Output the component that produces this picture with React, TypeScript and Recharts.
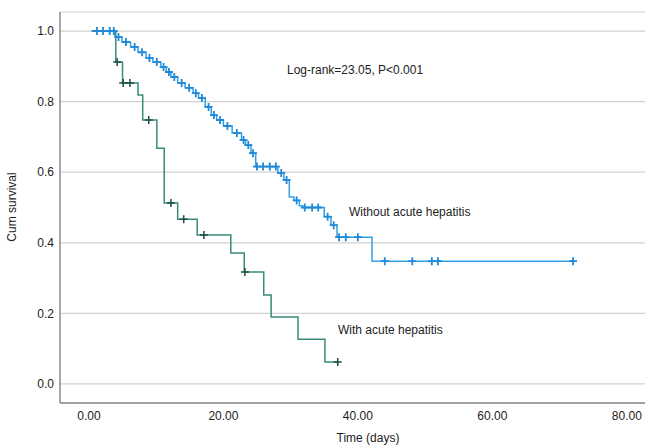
import React from "react";
import {
  ComposedChart,
  Line,
  Scatter,
  XAxis,
  YAxis,
  CartesianGrid,
} from "recharts";

// Kaplan-Meier steps
const blueTimes = [0.4, 3.9, 4.9, 6.2, 7.3, 8.5, 9.5, 10.7, 11.5, 12.2, 13.2, 14.3, 15.5, 16.3, 17.3, 18.2, 19.0, 20.0, 21.3, 22.7, 23.3, 24.1, 24.8, 28.1, 29.0, 29.8, 30.5, 31.3, 31.8, 35.0, 36.0, 36.9, 42.1, 72.0];
const blueSurv = [1.0, 0.983, 0.969, 0.955, 0.94, 0.924, 0.912, 0.898, 0.884, 0.87, 0.853, 0.839, 0.824, 0.81, 0.785, 0.762, 0.748, 0.731, 0.711, 0.691, 0.677, 0.654, 0.616, 0.598, 0.578, 0.53, 0.52, 0.505, 0.5, 0.474, 0.45, 0.416, 0.348, 0.348];
const blueCensored = [1.2, 2.1, 3.1, 3.7, 4.4, 5.5, 6.8, 7.9, 9.0, 10.1, 11.1, 11.9, 12.7, 13.8, 14.9, 15.9, 16.8, 17.8, 18.6, 19.5, 20.6, 22.0, 23.0, 23.7, 24.4, 25.0, 25.9, 26.9, 27.8, 28.6, 29.4, 30.9, 32.1, 33.2, 34.1, 35.5, 36.4, 37.2, 38.2, 40.0, 44.0, 48.1, 51.0, 51.9, 72.0];

const greenTimes = [0.4, 4.0, 5.0, 7.3, 8.0, 10.1, 11.2, 13.2, 16.1, 21.1, 23.1, 26.0, 27.1, 31.1, 35.1, 37.0];
const greenSurv = [1.0, 0.912, 0.853, 0.819, 0.748, 0.668, 0.513, 0.467, 0.422, 0.371, 0.317, 0.252, 0.19, 0.127, 0.062, 0.062];
const greenCensored = [4.2, 5.1, 6.1, 8.9, 12.2, 14.1, 17.1, 23.2, 37.0];

const xTicks = [0, 20, 40, 60, 80];
const yTicks = [0, 0.2, 0.4, 0.6, 0.8, 1.0];

const BLUE = "#34a0e6";
const BLUE_MARK = "#1f88d8";
const GREEN = "#3a8a7c";
const GREEN_MARK = "#1e4d43";
const FONT = "'Liberation Sans', Arial, sans-serif";

const toRows = (ts: number[], ss: number[]) => ts.map((t, i) => ({ t, s: ss[i] }));

const survAt = (ts: number[], ss: number[], t: number) => {
  let v = ss[0];
  for (let i = 0; i < ts.length; i++) if (ts[i] <= t) v = ss[i];
  return v;
};

const blueData = toRows(blueTimes, blueSurv);
const greenData = toRows(greenTimes, greenSurv);
const blueMarks = blueCensored.map((t) => ({ t, s: survAt(blueTimes, blueSurv, t) }));
const greenMarks = greenCensored.map((t) => ({ t, s: survAt(greenTimes, greenSurv, t) }));

const plus = (color: string, w: number) => (props: any) => {
  const { cx, cy } = props;
  return (
    <path
      d={`M${cx - 4},${cy}h8M${cx},${cy - 4}v8`}
      stroke={color}
      strokeWidth={w}
      fill="none"
    />
  );
};

const note: React.CSSProperties = {
  position: "absolute",
  fontSize: 12,
  lineHeight: "14px",
  color: "#222",
  whiteSpace: "nowrap",
};

export default function App() {
  return (
    <div style={{ position: "absolute", left: 0, top: 0, width: 650, height: 447, background: "#fff", fontFamily: FONT }}>
      <ComposedChart width={650} height={447} margin={{ top: 12, right: 5, left: 0, bottom: 0 }}>
        <CartesianGrid vertical={false} stroke="#d2d2d2" strokeWidth={1.2} />
        <XAxis
          dataKey="t"
          type="number"
          domain={[-4.3, 82.7]}
          ticks={xTicks}
          allowDataOverflow
          height={44}
          tickLine={false}
          tickSize={6}
          tickMargin={2}
          axisLine={{ stroke: "#8a8a8a", strokeWidth: 1.5 }}
          tick={{ fill: "#222", fontSize: 12, fontFamily: FONT }}
          tickFormatter={(v) => Number(v).toFixed(2)}
          label={{
            content: () => (
              <text x={368} y={442} textAnchor="middle" fontSize={12} fill="#222" fontFamily={FONT}>
                Time (days)
              </text>
            ),
          }}
        />
        <YAxis
          dataKey="s"
          type="number"
          domain={[-0.054, 1.054]}
          ticks={yTicks}
          allowDataOverflow
          width={60}
          tickLine={false}
          tickSize={4}
          tickMargin={2}
          axisLine={{ stroke: "#8a8a8a", strokeWidth: 1.5 }}
          tick={{ fill: "#222", fontSize: 12, fontFamily: FONT }}
          tickFormatter={(v) => Number(v).toFixed(1)}
          label={{
            content: () => (
              <text x={16} y={207} transform="rotate(-90 16 207)" textAnchor="middle" fontSize={12} fill="#222" fontFamily={FONT}>
                Cum survival
              </text>
            ),
          }}
        />
        <Line data={blueData} dataKey="s" type="stepAfter" stroke={BLUE} strokeWidth={1.5} dot={false} isAnimationActive={false} />
        <Line data={greenData} dataKey="s" type="stepAfter" stroke={GREEN} strokeWidth={1.5} dot={false} isAnimationActive={false} />
        <Scatter data={blueMarks} dataKey="s" shape={plus(BLUE_MARK, 1.8)} isAnimationActive={false} />
        <Scatter data={greenMarks} dataKey="s" shape={plus(GREEN_MARK, 1.5)} isAnimationActive={false} />
      </ComposedChart>
      <div style={{ ...note, left: 287, top: 63 }}>Log-rank=23.05, P&lt;0.001</div>
      <div style={{ ...note, left: 349, top: 205 }}>Without acute hepatitis</div>
      <div style={{ ...note, left: 338, top: 323 }}>With acute hepatitis</div>
    </div>
  );
}
